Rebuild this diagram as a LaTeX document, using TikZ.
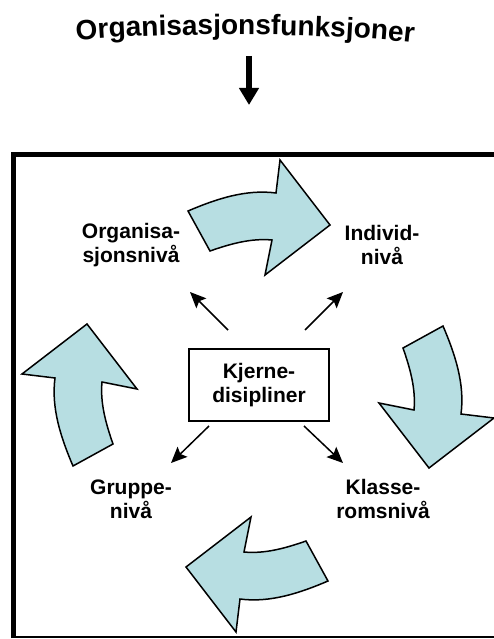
\documentclass[tikz,border=0pt]{standalone}
\usepackage{fontspec}
\setmainfont{Liberation Sans}
\usetikzlibrary{arrows.meta, decorations.text}
\definecolor{pilblaa}{RGB}{183, 222, 226}
\definecolor{rammesvart}{RGB}{0, 0, 0}

% curved arrow, drawn around the centre of the frame, pointing right
\newcommand{\storpil}{(-70,-185) .. controls (-42,-197) and (-12,-207) .. (18,-203) -- (22,-236) -- (72,-171) -- (7,-121) -- (14,-156) .. controls (-7,-158) and (-28,-152) .. (-48,-145) -- cycle}

\tikzset{
    niva/.style={align=center, font=\fontsize{21}{24}\selectfont\bfseries},
    kjerneboks/.style={draw, line width=1.5pt, minimum width=140pt, minimum height=72pt, align=center, font=\fontsize{21}{24}\selectfont\bfseries},
    pil/.style={line width=1.5pt, -{Stealth[length=16pt, width=14pt, inset=3pt]}},
    bue/.style={fill=pilblaa, draw=black, line width=1.5pt, line join=miter}
}

\begin{document}
\begin{tikzpicture}[x=1pt, y=-1pt]
    \useasboundingbox (0,0) rectangle (494,639);

    % Title
    \path[decorate, decoration={text along path, text align=center,
        text={|\fontsize{28}{30}\selectfont\bfseries|Organisasjonsfunksjoner}}]
        (68,41) .. controls (160,32) and (330,32) .. (422,44);
    \coordinate (titteltopp) at (249,56);
    \coordinate (tittelbunn) at (249,105);
    \draw[line width=6pt, -{Triangle[length=17pt, width=19pt]}] (titteltopp) -- (tittelbunn);

    % Frame
    \draw[line width=5pt, rammesvart] (13.5,638) -- (13.5,154.5) -- (500,154.5);
    \draw[line width=2pt, rammesvart] (11,637) -- (500,637);

    % Curved arrows
    \draw[bue, shift={(258,396)}] \storpil;
    \draw[bue, shift={(258,396)}, rotate=-90] \storpil;
    \draw[bue, shift={(258,396)}, rotate=-180] \storpil;
    \draw[bue, shift={(258,396)}, rotate=-270] \storpil;

    % Levels
    \node[kjerneboks] (kjerne) at (259,385) {Kjerne-\\disipliner};
    \node[niva] (org) at (131,245) {Organisa-\\sjonsnivå};
    \node[niva] (ind) at (382,245) {Individ-\\nivå};
    \node[niva] (grp) at (131,499) {Gruppe-\\nivå};
    \node[niva] (kls) at (383,499) {Klasse-\\romsnivå};

    % Arrows out of the core
    \coordinate (orgfra) at (228,330);
    \coordinate (orgtil) at (190,292);
    \coordinate (indfra) at (305,330);
    \coordinate (indtil) at (343,292);
    \coordinate (grpfra) at (209,426);
    \coordinate (grptil) at (171,463);
    \coordinate (klsfra) at (304,426);
    \coordinate (klstil) at (343,463);
    \draw[pil] (orgfra) -- (orgtil);
    \draw[pil] (indfra) -- (indtil);
    \draw[pil] (grpfra) -- (grptil);
    \draw[pil] (klsfra) -- (klstil);
\end{tikzpicture}
\end{document}
